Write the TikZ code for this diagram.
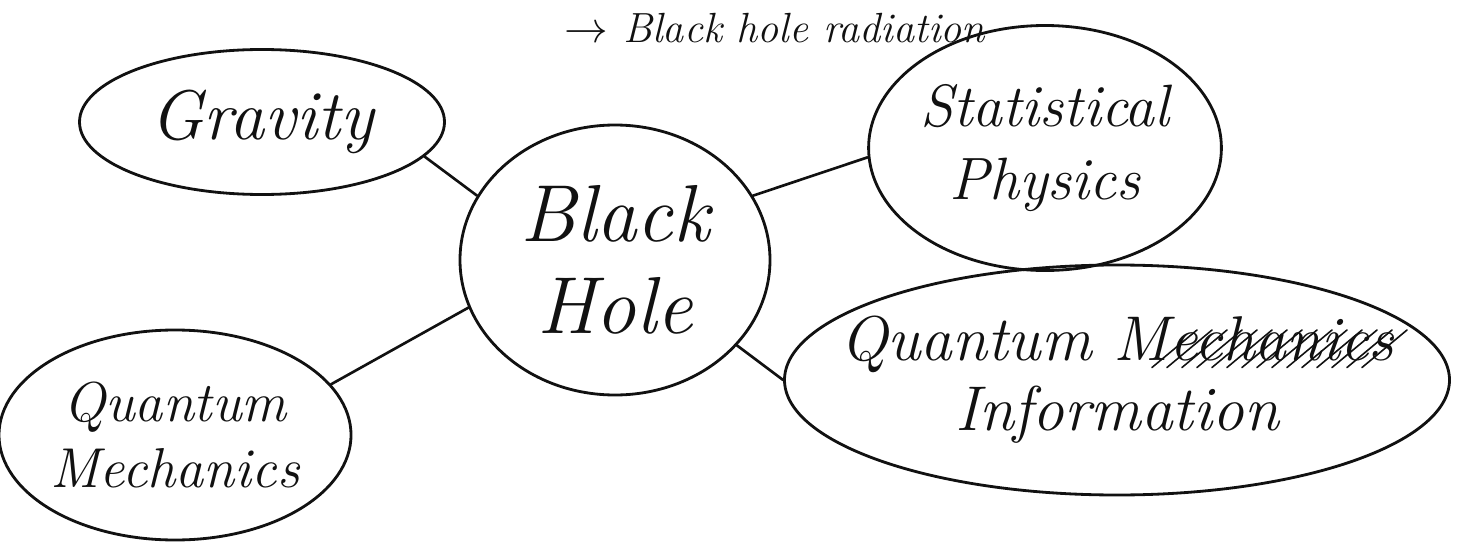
\documentclass[tikz,border=0pt]{standalone}
\usetikzlibrary{arrows.meta,positioning,calc,shapes.geometric}
\definecolor{Ink}{HTML}{111111}
\definecolor{Paper}{HTML}{FFFFFF}
\tikzset{
  topicbox/.style={draw=Ink,ellipse,line width=1.6pt,align=center,text=Ink,inner sep=0pt,font=\itshape\fontsize{36}{40}\selectfont},
  hubbox/.style={topicbox,font=\itshape\fontsize{46}{52}\selectfont},
  link/.style={draw=Ink,line width=1.5pt,line cap=round},
  scratch/.style={draw=Ink,line width=0.9pt,line cap=round}
}

\begin{document}
\begin{tikzpicture}
  \clip (0,0) rectangle (29.2,10.9);
  \fill[Paper] (0,0) rectangle (29.2,10.9);
  \node[text=Ink,font=\itshape\fontsize{24}{28}\selectfont,anchor=base] (title) at (15.5,10.05) {$\rightarrow$ Black hole radiation};
  \node[hubbox,minimum width=6.2cm,minimum height=5.4cm] (bh) at (12.3,5.7) {Black\\Hole};
  \node[topicbox,minimum width=7.3cm,minimum height=2.9cm,font=\itshape\fontsize{40}{44}\selectfont] (grav) at (5.24,8.46) {Gravity};
  \node[topicbox,minimum width=7.0cm,minimum height=4.9cm,font=\itshape\fontsize{34}{42}\selectfont] (stat) at (20.9,7.94) {Statistical\\Physics};
  \node[topicbox,minimum width=13.3cm,minimum height=4.6cm,inner xsep=-0.9cm] (qi) at (22.34,3.3) {Quantum Mechanics\\Information};
  \node[topicbox,minimum width=6.8cm,minimum height=4.2cm,font=\itshape\fontsize{32}{38}\selectfont] (qm) at (3.5,2.2) {Quantum\\Mechanics};
  % scribbled-out word
  \foreach \dx in {0.7,1.0,...,5.0}
    \draw[scratch] ($(qi.center)+(\dx,0.25)$) -- ++(0.9,0.75);
  \draw[link] (grav.-12) -- (bh.155);
  \draw[link] (bh.25) -- (stat.183);
  \draw[link] (bh.-35) -- (qi.180);
  \draw[link] (bh.198) -- (qm.18);
\end{tikzpicture}
\end{document}
